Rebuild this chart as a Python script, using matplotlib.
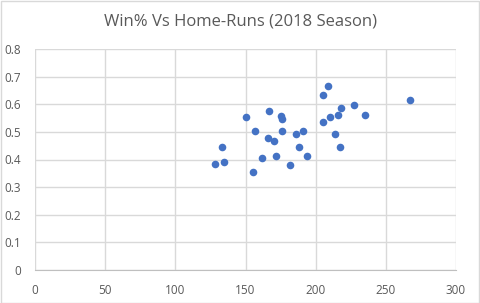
import matplotlib
matplotlib.use("Agg")
import matplotlib.pyplot as plt
from matplotlib.patches import Rectangle

home_runs = [167, 150, 157, 166, 209, 205, 227, 218, 235, 216,
             210, 205, 176, 175, 176, 186, 191, 214, 133, 128,
             135, 170, 162, 172, 155, 188, 217, 194, 182, 267]
win_pct = [0.577, 0.553, 0.504, 0.477, 0.665, 0.632, 0.596, 0.585, 0.560, 0.560,
           0.553, 0.537, 0.547, 0.557, 0.502, 0.491, 0.502, 0.491, 0.446, 0.385,
           0.390, 0.468, 0.404, 0.412, 0.354, 0.446, 0.446, 0.412, 0.379, 0.615]
x_ticks = [0, 50, 100, 150, 200, 250, 300]
y_ticks = [0, 0.1, 0.2, 0.3, 0.4, 0.5, 0.6, 0.7, 0.8]
y_labels = ["0", "0.1", "0.2", "0.3", "0.4", "0.5", "0.6", "0.7", "0.8"]
title = "Win% Vs Home-Runs (2018 Season)"

plt.rcParams['font.family'] = ['Open Sans', 'DejaVu Sans']
W, H = 480, 303
fig = plt.figure(figsize=(W/100, H/100), dpi=100)
fig.patches.append(Rectangle((0.5/W, 0.5/H), 1 - 1.5/W, 1 - 1.5/H, transform=fig.transFigure,
                             fill=False, edgecolor="#D9D9D9", linewidth=1))
ax = fig.add_axes([35/W, 33/H, (456-35)/W, (270-49)/H])
ax.scatter(home_runs, win_pct, s=30, color="#4472C4", zorder=3, linewidths=0)
ax.set_xlim(0, 300)
ax.set_ylim(0, 0.8)
ax.set_xticks(x_ticks)
ax.set_yticks(y_ticks)
ax.set_yticklabels(y_labels)
ax.grid(True, color="#D9D9D9", linewidth=1)
ax.set_axisbelow(True)
for s in ["top", "right", "left"]:
    ax.spines[s].set_visible(False)
ax.spines["bottom"].set_color("#BFBFBF")
ax.tick_params(length=0, labelsize=8.5, labelcolor="#595959")
ax.tick_params(axis="y", pad=10)
ax.tick_params(axis="x", pad=10)
fig.text(241/W, 1 - 21/H, title, ha="center", va="center", fontsize=12, color="#595959")
fig.savefig("out.png", dpi=100)
